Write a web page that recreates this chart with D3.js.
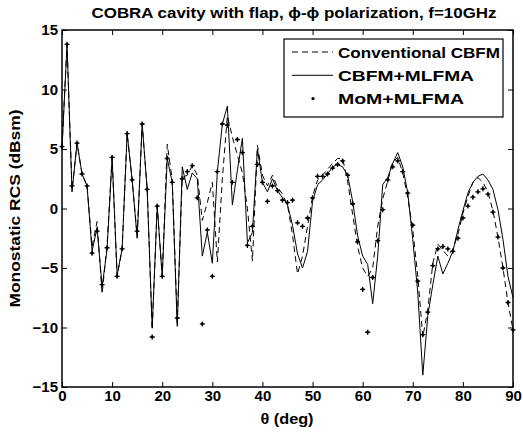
<!DOCTYPE html>
<html lang="en">
<head>
  <meta charset="UTF-8">
  <title>COBRA cavity RCS</title>
  <style>
    body { margin: 0; background: #fff; }
    svg { display: block; font-family: Arial, "Liberation Sans", sans-serif; font-weight: bold; }
  </style>
</head>
<body>
  <svg width="523" height="433"></svg>

  <script src="https://d3js.org/d3.v7.min.js"></script>
  <script>
    // angle in degrees, 0..90 step 1
    const theta = d3.range(0, 91);

    const xTicks = [0, 10, 20, 30, 40, 50, 60, 70, 80, 90];
    const yTicks = [-15, -10, -5, 0, 5, 10, 15];

    // Conventional CBFM (dashed)
    const conventional = [
      5.2, 13.8, 1.6, 5.5, 2.9, 1.9, -3.2, -1.1, -7.2, -3.0,
      4.3, -5.7, -3.4, 6.3, 2.4, -2.3, 7.1, 1.6, -10.2, 0.2,
      -5.7, 5.4, 2.4, -9.6, 2.6, 2.8, 3.6, 2.8, -1.0, 0.5,
      2.2, -4.5, 2.5, 7.8, 6.0, 4.5, 3.0, 0.0, -4.4, 5.3,
      2.8, 1.9, 2.8, 1.8, 1.2, 0.3, -2.2, -5.5, -4.0, -1.5,
      1.0, 2.4, 2.8, 3.3, 3.8, 4.2, 4.2, 2.3, -0.5, -3.2,
      -5.0, -5.7, -5.0, -1.5, 0.8, 2.3, 3.9, 4.3, 3.0, 0.9,
      -1.8, -5.7, -10.8, -8.5, -4.6, -3.0, -3.5, -4.0, -3.4, -2.2,
      -0.4, 1.0, 2.2, 2.6, 2.2, 1.4, -0.2, -2.4, -5.0, -7.9,
      -10.2
    ];

    // CBFM+MLFMA (solid)
    const cbfmMlfma = [
      5.0, 13.8, 1.4, 5.5, 2.9, 1.9, -3.6, -1.6, -6.6, -3.4,
      4.3, -5.6, -3.4, 6.3, 2.4, -2.5, 7.1, 1.6, -10.0, 0.2,
      -5.7, 4.2, 2.2, -9.9, 3.5, 1.6, 3.0, 2.5, -4.0, -2.0,
      -4.6, 3.1, 7.1, 8.6, 0.3, 3.2, 5.9, -2.9, -2.0, 5.0,
      2.2, 1.4, 2.5, 1.5, 0.9, 0.3, -1.4, -3.8, -5.0, -3.6,
      0.6, 2.0, 2.4, 2.9, 3.5, 3.7, 3.5, 2.8, 0.6, -2.3,
      -4.0, -4.7, -8.0, -4.0, 2.0, 2.6, 3.8, 4.7, 3.5, 1.3,
      -2.6, -7.1, -14.0, -9.0, -6.4, -4.0, -5.5, -4.6, -3.6, -1.8,
      -0.2, 1.3, 2.2, 2.7, 2.9, 2.4, 1.6, -0.1, -2.6, -5.7,
      -7.5
    ];

    // MoM+MLFMA (markers)
    const momMlfma = [
      5.2, 13.8, 1.9, 5.5, 2.9, 1.9, -3.75, -1.9, -6.4, -3.3,
      4.3, -5.7, -3.4, 6.3, 2.4, -1.9, 7.1, 1.6, -10.8, 0.2,
      -5.7, 4.2, 2.2, -9.2, 2.5, 3.1, 3.6, 0.9, -9.7, -1.8,
      -5.7, 3.1, 7.1, 7.0, 2.2, 5.8, 4.7, -3.1, -1.5, 3.7,
      2.2, 0.6, 1.9, 1.5, 0.7, 0.5, 0.7, -1.2, -1.5, -0.8,
      0.9, 2.7, 2.7, 2.9, 3.4, 3.7, 4.0, 2.8, 0.4, -2.8,
      -6.8, -10.4, -5.8, -2.7, -0.1, 2.4, 3.5, 4.0, 3.1, 1.3,
      -1.4, -6.1, -10.6, -8.7, -4.8, -3.4, -3.2, -3.4, -3.6, -2.5,
      -0.8, 0.2, 0.95, 1.4, 1.65, 1.2, -0.3, -2.4, -5.0, -7.9,
      -10.2
    ];

    const svg = d3.select("svg");
    const mLeft = 62, mRight = 513, mTop = 30, mBottom = 387;

    const x = d3.scaleLinear().domain([0, 90]).range([mLeft, mRight]);
    const y = d3.scaleLinear().domain([-15, 15]).range([mBottom, mTop]);

    // title
    svg.append("text")
      .attr("x", 294).attr("y", 18)
      .attr("text-anchor", "middle")
      .attr("font-size", 15)
      .attr("textLength", 405).attr("lengthAdjust", "spacingAndGlyphs")
      .text("COBRA cavity with flap, \u03d5-\u03d5 polarization, f=10GHz");

    // axes with inward ticks, mirrored on top/right
    const axisStyle = g => {
      g.select(".domain").remove();
      g.selectAll("line").attr("stroke", "#000").attr("stroke-width", 1);
      g.selectAll("text").attr("font-size", 15).attr("font-weight", "bold").attr("fill", "#000")
        .attr("font-family", "Arial, 'Liberation Sans', sans-serif");
    };

    svg.append("g").attr("transform", `translate(0,${mBottom})`)
      .call(d3.axisBottom(x).tickValues(xTicks).tickSizeInner(-5).tickSizeOuter(0).tickPadding(3))
      .call(axisStyle);
    svg.append("g").attr("transform", `translate(0,${mTop})`)
      .call(d3.axisTop(x).tickValues(xTicks).tickSizeInner(-5).tickSizeOuter(0).tickFormat(""))
      .call(axisStyle);
    svg.append("g").attr("transform", `translate(${mLeft},0)`)
      .call(d3.axisLeft(y).tickValues(yTicks).tickSizeInner(-5).tickSizeOuter(0).tickPadding(4))
      .call(axisStyle);
    svg.append("g").attr("transform", `translate(${mRight},0)`)
      .call(d3.axisRight(y).tickValues(yTicks).tickSizeInner(-5).tickSizeOuter(0).tickFormat(""))
      .call(axisStyle);

    const line = d3.line().x((d, i) => x(theta[i])).y(d => y(d));

    svg.append("path").datum(conventional)
      .attr("d", line).attr("fill", "none")
      .attr("stroke", "#000").attr("stroke-width", 1)
      .attr("stroke-dasharray", "6,4");

    svg.append("path").datum(cbfmMlfma)
      .attr("d", line).attr("fill", "none")
      .attr("stroke", "#000").attr("stroke-width", 1);

    const marker = (g) => {
      g.append("path").attr("d", "M-2.5,0H2.5M0,-2.5V2.5").attr("stroke", "#000").attr("stroke-width", 1.3);
      g.append("circle").attr("r", 1.4).attr("fill", "#000");
    };

    svg.append("g").selectAll("g")
      .data(momMlfma)
      .join("g")
      .attr("transform", (d, i) => `translate(${x(theta[i])},${y(d)})`)
      .each(function () { marker(d3.select(this)); });

    // plot box
    svg.append("rect")
      .attr("x", mLeft).attr("y", mTop)
      .attr("width", mRight - mLeft).attr("height", mBottom - mTop)
      .attr("fill", "none").attr("stroke", "#000").attr("stroke-width", 1.5);

    // axis labels
    svg.append("text")
      .attr("x", 287).attr("y", 424)
      .attr("text-anchor", "middle").attr("font-size", 15)
      .attr("textLength", 53).attr("lengthAdjust", "spacingAndGlyphs")
      .text("\u03b8 (deg)");
    svg.append("text")
      .attr("transform", `translate(20,${(mTop + mBottom) / 2}) rotate(-90)`)
      .attr("text-anchor", "middle").attr("font-size", 15)
      .attr("textLength", 198).attr("lengthAdjust", "spacingAndGlyphs")
      .text("Monostatic RCS (dBsm)");

    // legend
    const legend = svg.append("g");
    legend.append("rect")
      .attr("x", 284).attr("y", 39).attr("width", 219).attr("height", 78)
      .attr("fill", "#fff").attr("stroke", "#000").attr("stroke-width", 1.2);
    const items = ["Conventional CBFM", "CBFM+MLFMA", "MoM+MLFMA"];
    const itemWidths = [162, 136, 126];
    items.forEach((name, i) => {
      const yy = 52 + i * 23.3;
      if (i === 0) {
        legend.append("line").attr("x1", 292).attr("x2", 333).attr("y1", yy).attr("y2", yy)
          .attr("stroke", "#000").attr("stroke-width", 1).attr("stroke-dasharray", "6,4");
      } else if (i === 1) {
        legend.append("line").attr("x1", 292).attr("x2", 333).attr("y1", yy).attr("y2", yy)
          .attr("stroke", "#000").attr("stroke-width", 1);
      } else {
        legend.append("circle").attr("cx", 313).attr("cy", yy).attr("r", 1.6).attr("fill", "#000");
      }
      legend.append("text")
        .attr("x", 338).attr("y", yy + 5.5)
        .attr("font-size", 15.5)
        .attr("textLength", itemWidths[i]).attr("lengthAdjust", "spacingAndGlyphs")
        .text(name);
    });
  </script>
</body>
</html>
